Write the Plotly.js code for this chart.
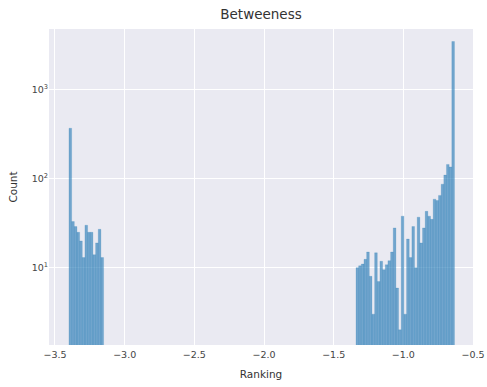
<!DOCTYPE html>
<html>
<head>
<meta charset="utf-8">
<script src="https://cdn.plot.ly/plotly-3.0.1.min.js"></script>
<style>html,body{margin:0;padding:0;background:#fff;}#chart{width:487px;height:387px;}</style>
</head>
<body>
<div id="chart"></div>
<script>
// Histogram bins
var binWidth = 0.0191;
var leftStart = -3.3996;   // left edge of first bin in left cluster
var rightStart = -1.3397;  // left edge of first bin in right cluster
var leftCounts = [370, 33, 29, 25, 20, 13, 30, 25, 25, 14, 19, 27, 13];
var rightCounts = [10, 10.5, 11, 12.4, 15, 8, 3, 14.7, 7, 11.8, 9.5, 10.8, 12, 15, 28, 5.9, 2, 38, 3, 21, 13, 29, 10, 37, 19, 28, 43, 38, 35, 59, 57, 65, 87, 110, 145, 136, 3500];
var xTicks = [-3.5, -3.0, -2.5, -2.0, -1.5, -1.0, -0.5];
var yTicks = [10, 100, 1000];
var yTickText = ['10<sup>1</sup>', '10<sup>2</sup>', '10<sup>3</sup>'];

var xs = [], ys = [];
leftCounts.forEach(function(c, i){ xs.push(leftStart + (i + 0.5) * binWidth); ys.push(c); });
rightCounts.forEach(function(c, i){ xs.push(rightStart + (i + 0.5) * binWidth); ys.push(c); });

var font = {family: 'DejaVu Sans, sans-serif', color: '#333333'};
var trace = {
  type: 'bar', x: xs, y: ys, width: binWidth,
  marker: {color: 'rgba(31,119,180,0.6)', line: {color: 'rgba(31,119,180,0.35)', width: 0.5}},
  hoverinfo: 'skip'
};
var layout = {
  width: 487, height: 387,
  margin: {l: 49, r: 14, t: 29, b: 42, pad: 0},
  paper_bgcolor: '#ffffff', plot_bgcolor: '#EAEAF2',
  bargap: 0, showlegend: false,
  font: {family: font.family, color: font.color, size: 9.5},
  title: {text: 'Betweeness', font: {family: font.family, color: '#333333', size: 13.5}, x: 0.536, xanchor: 'center', y: 0.962, yanchor: 'middle'},
  xaxis: {
    range: [-3.543, -0.5], tickvals: xTicks, tickformat: '.1f',
    showgrid: true, gridcolor: '#ffffff', gridwidth: 1, zeroline: false, showline: false, ticks: '',
    ticklabelstandoff: 2,
    tickfont: {size: 9.5, color: '#444'},
    title: {text: 'Ranking', font: {size: 10.5, color: '#333'}, standoff: 12}
  },
  yaxis: {
    type: 'log', range: [0.13, 3.685], tickvals: yTicks, ticktext: yTickText,
    showgrid: true, gridcolor: '#ffffff', gridwidth: 1, zeroline: false, showline: false, ticks: '',
    tickfont: {size: 9.5, color: '#444'},
    title: {text: 'Count', font: {size: 10.5, color: '#333'}, standoff: 11}
  }
};
Plotly.newPlot('chart', [trace], layout, {displayModeBar: false, staticPlot: true});
</script>
</body>
</html>
